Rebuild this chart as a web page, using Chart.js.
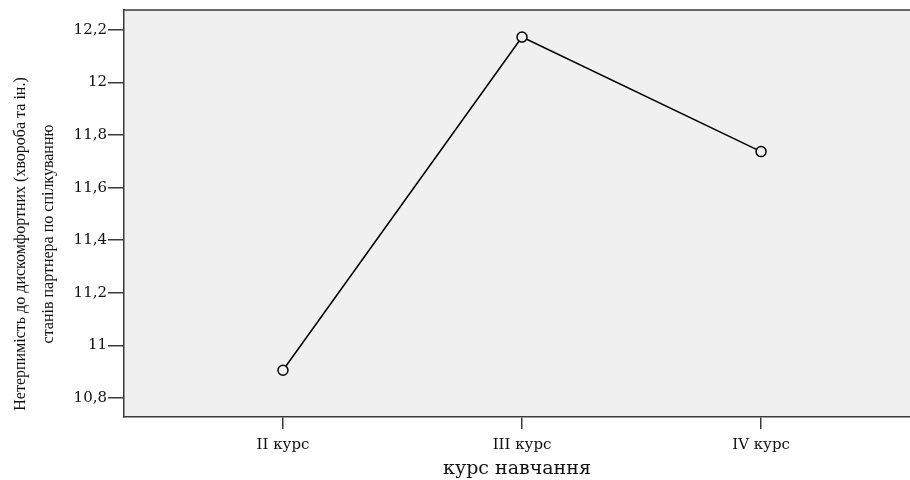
<!DOCTYPE html>
<html><head><meta charset="utf-8">
<script src="https://cdn.jsdelivr.net/npm/chart.js@4/dist/chart.umd.min.js"></script>
<style>html,body{margin:0;padding:0;background:#fff}</style>
</head><body>
<canvas id="c" width="910" height="480"></canvas>
<script>
const categories = ['II курс', 'III курс', 'IV курс'];
const values = [10.905, 12.173, 11.737];
const yTicks = [10.8, 11, 11.2, 11.4, 11.6, 11.8, 12, 12.2];
const yTickLabels = ['10,8', '11', '11,2', '11,4', '11,6', '11,8', '12', '12,2'];
const xTitle = 'курс навчання';
const yTitleLines = ['Нетерпимість до дискомфортних (хвороба та ін.)', 'станів партнера по спілкуванню'];

const AXIS = '#3a3a3a';
const TEXT = '#111';

const areaPlugin = {
  id: 'area',
  beforeDraw(chart) {
    const {ctx, chartArea: a} = chart;
    ctx.save();
    ctx.fillStyle = '#f0f0f0';
    ctx.fillRect(a.left, a.top, a.right - a.left, a.bottom - a.top);
    ctx.restore();
  },
  afterDraw(chart) {
    const {ctx, chartArea: a} = chart;
    ctx.save();
    ctx.strokeStyle = AXIS;
    ctx.lineWidth = 1.5;
    ctx.beginPath();
    ctx.moveTo(a.left, a.top);
    ctx.lineTo(a.right, a.top);
    ctx.stroke();
    ctx.fillStyle = TEXT;
    ctx.font = '16px "Liberation Serif"';
    ctx.textAlign = 'center';
    ctx.textBaseline = 'middle';
    const pos = [[21, 244], [49, 234]];
    yTitleLines.forEach((t, i) => {
      ctx.save();
      ctx.translate(pos[i][0], pos[i][1]);
      ctx.rotate(-Math.PI / 2);
      ctx.fillText(t, 0, 0);
      ctx.restore();
    });
    ctx.restore();
  }
};

new Chart(document.getElementById('c'), {
  type: 'line',
  data: {
    datasets: [{
      data: values.map((v, i) => ({x: i + 1, y: v})),
      borderColor: '#000',
      borderWidth: 1.5,
      tension: 0,
      pointStyle: 'circle',
      pointRadius: 5,
      pointBorderWidth: 1.5,
      pointBorderColor: '#000',
      pointBackgroundColor: '#f0f0f0'
    }]
  },
  options: {
    responsive: false,
    animation: false,
    devicePixelRatio: 1,
    layout: {autoPadding: false, padding: {top: 10, right: 0, bottom: 0, left: 0}},
    plugins: {legend: {display: false}, tooltip: {enabled: false}},
    scales: {
      x: {
        type: 'linear',
        min: 0.335,
        max: 3.623,
        afterBuildTicks(s) { s.ticks = categories.map((c, i) => ({value: i + 1})); },
        afterFit(s) { s.height = 63; s.paddingLeft = 0; s.paddingRight = 0; },
        ticks: {
          autoSkip: false,
          maxRotation: 0,
          padding: 7,
          color: TEXT,
          font: {family: 'DejaVu Serif', size: 15},
          callback: (v) => categories[Math.round(v) - 1]
        },
        grid: {drawOnChartArea: false, drawTicks: true, tickLength: 12, color: AXIS, lineWidth: 1.5},
        border: {display: true, color: AXIS, width: 1.5},
        title: {display: true, text: xTitle, color: TEXT, font: {family: 'DejaVu Serif', size: 19}, padding: {top: 0, bottom: 0}}
      },
      y: {
        min: 10.727,
        max: 12.276,
        afterBuildTicks(s) { s.ticks = yTicks.map(v => ({value: v})); },
        afterFit(s) { s.width = 124; },
        ticks: {
          padding: 1,
          color: TEXT,
          font: {family: 'DejaVu Serif', size: 15},
          callback: (v) => yTickLabels[yTicks.findIndex(t => Math.abs(t - v) < 1e-6)]
        },
        grid: {drawOnChartArea: false, drawTicks: true, tickLength: 16, color: AXIS, lineWidth: 1.5},
        border: {display: true, color: AXIS, width: 1.5}
      }
    }
  },
  plugins: [areaPlugin]
});
</script>
</body></html>
